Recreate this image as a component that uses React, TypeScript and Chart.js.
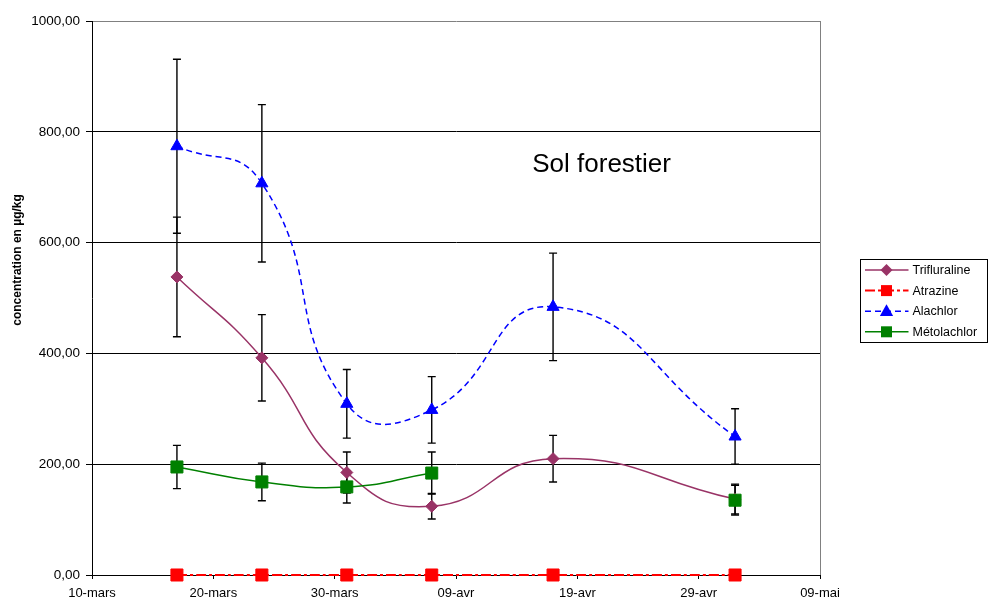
import React, { useEffect, useRef } from "react";
import { Chart, registerables } from "chart.js";

Chart.register(...registerables);

// ---- data ----
const tickLabels = ["10-mars", "20-mars", "30-mars", "09-avr", "19-avr", "29-avr", "09-mai"];
const sampleDays = [7, 14, 21, 28, 38, 53]; // days after 10 March
const seriesNames = ["Trifluraline", "Atrazine", "Alachlor", "Métolachlor"];
const trifluraline = [538, 392, 185, 124, 210, 137];
const trifluralineErr = [108, 78, 37, 23, 42, 27];
const atrazine = [0, 0, 0, 0, 0, 0];
const atrazineErr = [0, 0, 0, 0, 0, 0];
const alachlor = [774, 707, 309, 298, 484, 250];
const alachlorErr = [157, 142, 62, 60, 97, 50];
const metolachlor: (number | null)[] = [195, 168, 159, 184, null, 135];
const metolachlorErr: (number | null)[] = [39, 34, 29, 38, null, 27];
const yAxisTitle = "concentration en µg/kg";
const chartNote = "Sol forestier";
const noteDay = 42;
const noteValue = 727;

const FONT = "'Liberation Sans', Arial, sans-serif";

const toPoints = (vals: (number | null)[]) => sampleDays.map((d, i) => ({ x: d, y: vals[i] }));

const styles = [
  { color: "#993366", dash: [] as number[], width: 1.5, marker: "diamond" },
  { color: "#FF0000", dash: [10, 3, 3, 3], width: 2, marker: "square" },
  { color: "#0000FF", dash: [6, 4], width: 1.5, marker: "triangle" },
  { color: "#008000", dash: [] as number[], width: 1.5, marker: "square" },
];

function drawMarker(ctx: CanvasRenderingContext2D, kind: string, x: number, y: number, color: string) {
  ctx.save();
  ctx.fillStyle = color;
  ctx.beginPath();
  if (kind === "diamond") {
    const r = 6;
    ctx.moveTo(x, y - r);
    ctx.lineTo(x + r, y);
    ctx.lineTo(x, y + r);
    ctx.lineTo(x - r, y);
    ctx.closePath();
  } else if (kind === "square") {
    const s = 5.5;
    ctx.rect(x - s, y - s, 2 * s, 2 * s);
  } else {
    const r = 7;
    ctx.moveTo(x, y - r);
    ctx.lineTo(x + r * 0.95, y + r * 0.7);
    ctx.lineTo(x - r * 0.95, y + r * 0.7);
    ctx.closePath();
  }
  ctx.fill();
  ctx.restore();
}

const errorBarPlugin = {
  id: "errorBars",
  beforeDatasetsDraw(chart: any) {
    const { ctx } = chart;
    const xs = chart.scales.x;
    const ys = chart.scales.y;
    ctx.save();
    ctx.strokeStyle = "#000";
    ctx.lineWidth = 1.4;
    chart.data.datasets.forEach((ds: any) => {
      const errs = ds.errors as (number | null)[];
      if (!errs) return;
      ds.data.forEach((p: any, i: number) => {
        const e = errs[i];
        if (p.y == null || !e) return;
        const px = xs.getPixelForValue(p.x);
        const top = ys.getPixelForValue(p.y + e);
        const bot = ys.getPixelForValue(p.y - e);
        ctx.beginPath();
        ctx.moveTo(px, top);
        ctx.lineTo(px, bot);
        ctx.moveTo(px - 4, top);
        ctx.lineTo(px + 4, top);
        ctx.moveTo(px - 4, bot);
        ctx.lineTo(px + 4, bot);
        ctx.stroke();
      });
    });
    ctx.restore();
  },
};

const decorPlugin = {
  id: "decor",
  afterDraw(chart: any) {
    const { ctx, chartArea } = chart;
    const xs = chart.scales.x;
    const ys = chart.scales.y;
    ctx.save();
    // note text
    ctx.fillStyle = "#000";
    ctx.font = `26px ${FONT}`;
    ctx.textAlign = "center";
    ctx.textBaseline = "alphabetic";
    ctx.fillText(chartNote, xs.getPixelForValue(noteDay), ys.getPixelForValue(noteValue));

    // y axis title
    ctx.save();
    ctx.translate(18, 260);
    ctx.rotate(-Math.PI / 2);
    ctx.font = `bold 12px ${FONT}`;
    ctx.textAlign = "center";
    ctx.textBaseline = "middle";
    ctx.fillText(yAxisTitle, 0, 0);
    ctx.restore();

    // legend
    const lx = chartArea.right + 40.5;
    const ly = 259.5;
    const lw = 127;
    const lh = 83;
    ctx.fillStyle = "#fff";
    ctx.fillRect(lx, ly, lw, lh);
    ctx.strokeStyle = "#000";
    ctx.lineWidth = 1;
    ctx.strokeRect(lx, ly, lw, lh);
    seriesNames.forEach((name, i) => {
      const st = styles[i];
      const y = 270 + i * 20.6;
      ctx.save();
      ctx.strokeStyle = st.color;
      ctx.lineWidth = st.width;
      ctx.setLineDash(st.dash);
      ctx.beginPath();
      ctx.moveTo(lx + 4.5, y);
      ctx.lineTo(lx + 48, y);
      ctx.stroke();
      ctx.restore();
      drawMarker(ctx, st.marker, lx + 26, y, st.color);
      ctx.fillStyle = "#000";
      ctx.font = `12.5px ${FONT}`;
      ctx.textAlign = "left";
      ctx.textBaseline = "middle";
      ctx.fillText(name, lx + 52, y + 0.5);
    });
    ctx.restore();
  },
};

function makeDataset(i: number, vals: (number | null)[], errs: (number | null)[], pointStyle: string, radius: number, order: number) {
  const st = styles[i];
  return {
    label: seriesNames[i],
    data: toPoints(vals),
    errors: errs,
    borderColor: st.color,
    backgroundColor: st.color,
    borderWidth: st.width,
    borderDash: st.dash,
    pointStyle,
    pointRadius: radius,
    pointHoverRadius: radius,
    pointBorderWidth: 1,
    pointBorderColor: st.color,
    pointBackgroundColor: st.color,
    tension: 0.5,
    fill: false,
    order,
    spanGaps: false,
    clip: false,
  };
}

export default function App() {
  const ref = useRef<HTMLCanvasElement>(null);
  useEffect(() => {
    if (!ref.current) return;
    const chart = new Chart(ref.current, {
      type: "line",
      data: {
        datasets: [
          makeDataset(0, trifluraline, trifluralineErr, "rectRot", 6, 4),
          makeDataset(1, atrazine, atrazineErr, "rect", 8.5, 3),
          makeDataset(2, alachlor, alachlorErr, "triangle", 7, 2),
          makeDataset(3, metolachlor, metolachlorErr, "rect", 8.5, 1),
        ] as any,
      },
      options: {
        animation: false,
        responsive: false,
        devicePixelRatio: 1,
        layout: { padding: { top: 21, right: 169, bottom: 0, left: 0 } },
        plugins: {
          legend: { display: false },
          tooltip: { enabled: false },
          title: { display: false },
        },
        scales: {
          x: {
            type: "linear",
            min: 0,
            max: 60,
            afterFit: (s: any) => {
              s.height = 26;
            },
            ticks: {
              stepSize: 10,
              autoSkip: false,
              maxRotation: 0,
              padding: 7,
              color: "#000",
              font: { family: FONT, size: 13 },
              callback: (v: any) => tickLabels[Math.round(Number(v) / 10)] ?? "",
            },
            grid: {
              drawOnChartArea: true,
              color: (c: any) => (c.tick && c.tick.value === 60 ? "#808080" : "rgba(0,0,0,0)"),
              tickColor: "#000",
              tickLength: 4,
              lineWidth: 1,
            },
            border: { display: true, color: "#000", width: 1 },
          },
          y: {
            type: "linear",
            min: 0,
            max: 1000,
            afterFit: (s: any) => {
              s.width = 92;
            },
            afterBuildTicks: (s: any) => {
              s.ticks = [0, 200, 400, 600, 800, 1000].map((v) => ({ value: v }));
            },
            ticks: {
              stepSize: 200,
              padding: 6,
              color: "#000",
              font: { family: FONT, size: 13.5 },
              callback: (v: any) => Number(v).toFixed(2).replace(".", ","),
            },
            grid: {
              color: (c: any) => (c.tick && c.tick.value === 1000 ? "#808080" : "#000"),
              tickColor: "#000",
              tickLength: 6,
              lineWidth: 1,
            },
            border: { display: true, color: "#000", width: 1 },
          },
        },
      },
      plugins: [errorBarPlugin, decorPlugin],
    } as any);
    return () => chart.destroy();
  }, []);
  return (
    <div style={{ position: "absolute", left: 0, top: 0, width: 989, height: 601, background: "#fff" }}>
      <canvas ref={ref} width={989} height={601} style={{ display: "block", width: 989, height: 601 }} />
    </div>
  );
}
